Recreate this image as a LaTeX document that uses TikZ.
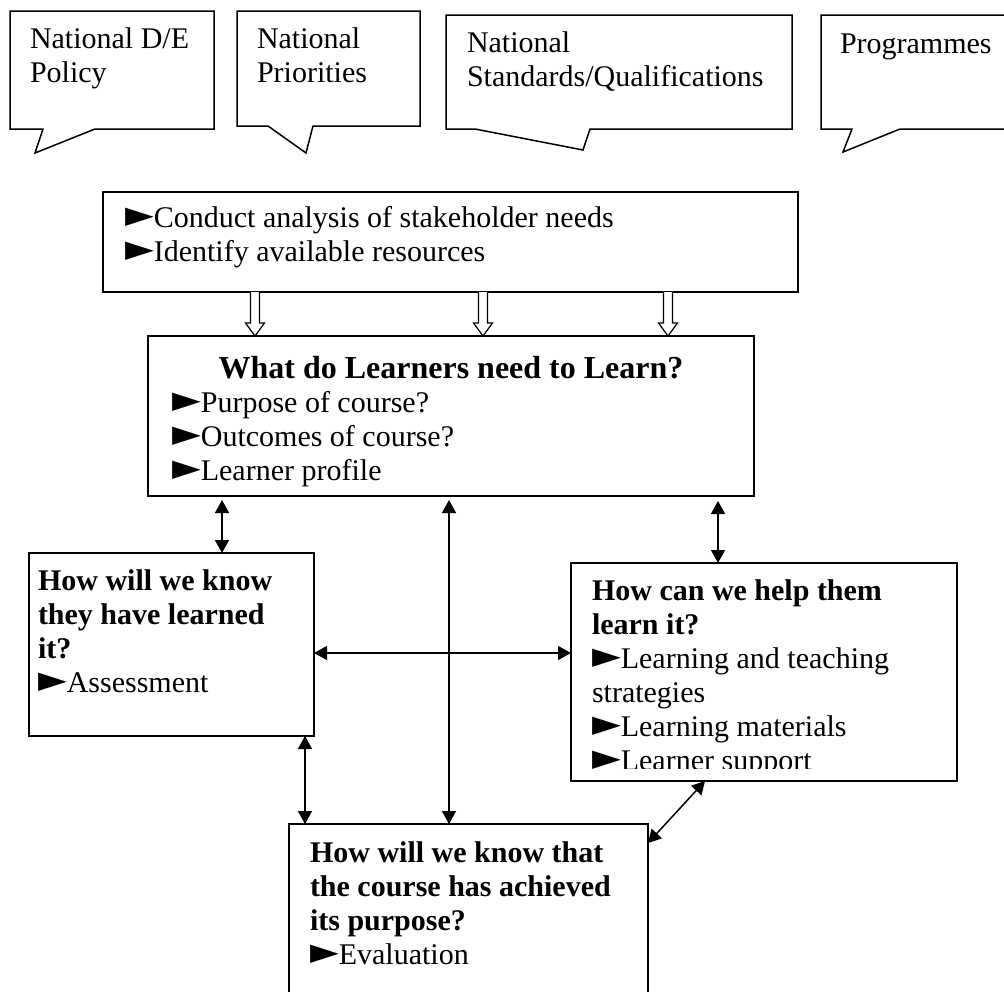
\documentclass[tikz,border=0pt]{standalone}
\usepackage{fontspec}
\setmainfont{Liberation Serif}
\newfontfamily\symfont{DejaVu Sans}
\usepackage{graphicx}
\usepackage{tikz}
\usetikzlibrary{arrows.meta,positioning,calc}

\newcommand{\tri}{\raisebox{4pt}{\scalebox{1.25}[0.8]{\symfont ▶}}}

\begin{document}
\begin{tikzpicture}[
    x=1pt, y=-1pt,
    font=\fontsize{30}{34}\selectfont,
    bubble/.style={anchor=north west, outer sep=0pt, inner ysep=0pt, align=flush left},
    outline/.style={draw, line width=1.5pt, line join=miter},
    qbox/.style={draw, line width=2pt, anchor=north west, outer sep=0pt, inner ysep=0pt, align=flush left},
    dbl/.style={{Triangle[length=13pt,width=14pt]}-{Triangle[length=13pt,width=14pt]}, line width=1.5pt},
    hollow/.style={draw, line width=1.2pt, fill=white, line join=miter}
]
    \useasboundingbox (0,0) rectangle (1004,991);

    % speech bubbles along the top
    \node[bubble, inner xsep=20pt, text width=164pt, text height=37pt, text depth=81pt] (policy) at (10,11) {National D/E\\Policy};
    \node[bubble, inner xsep=20pt, text width=143pt, text height=37pt, text depth=78pt] (prio) at (237,11) {National\\Priorities};
    \node[bubble, inner xsep=21pt, text width=304pt, text height=37pt, text depth=77pt] (stds) at (446,15) {National\\Standards/Qualifications};
    \node[bubble, inner xsep=19pt, text width=172pt, text height=38pt, text depth=76pt] (progs) at (821,15) {Programmes};

    \draw[outline] (policy.north west) -- (policy.north east) -- (policy.south east) -- ([xshift=85]policy.south west) -- ([xshift=25,yshift=-24]policy.south west) -- ([xshift=33]policy.south west) -- (policy.south west) -- cycle;
    \draw[outline] (prio.north west) -- (prio.north east) -- (prio.south east) -- ([xshift=76]prio.south west) -- ([xshift=69,yshift=-27]prio.south west) -- ([xshift=31]prio.south west) -- (prio.south west) -- cycle;
    \draw[outline] (stds.north west) -- (stds.north east) -- (stds.south east) -- ([xshift=144]stds.south west) -- ([xshift=137,yshift=-21]stds.south west) -- ([xshift=29]stds.south west) -- (stds.south west) -- cycle;
    \draw[outline] (progs.north west) -- (progs.north east) -- (progs.south east) -- ([xshift=79]progs.south west) -- ([xshift=22,yshift=-23]progs.south west) -- ([xshift=31]progs.south west) -- (progs.south west) -- cycle;

    % boxes
    \node[qbox, inner xsep=22pt, text width=651pt, text height=35pt, text depth=65pt] (res) at (103,192) {\tri{}Conduct analysis of stakeholder needs\\\tri{}Identify available resources};
    \node[qbox, inner xsep=24pt, text width=558pt, text height=42pt, text depth=118pt] (need) at (148,336) {\makebox[\linewidth]{\fontsize{32}{34}\selectfont\bfseries What do Learners need to Learn?}\\\tri{}Purpose of course?\\\tri{}Outcomes of course?\\\tri{}Learner profile};
    \node[qbox, inner xsep=9pt, text width=267pt, text height=37pt, text depth=146pt] (assess) at (29,553) {\textbf{How will we know}\\\textbf{they have learned}\\\textbf{it?}\\\tri{}Assessment};
    \node[qbox, inner xsep=21pt, text width=344pt, text height=37pt, text depth=181pt] (help) at (571,563) {\textbf{How can we help them}\\\textbf{learn it?}\\\tri{}Learning and teaching\\strategies\\\tri{}Learning materials\\\tri{}Learner support};
    \node[qbox, inner xsep=21pt, text width=317pt, text height=38pt, text depth=168pt] (eval) at (289,824) {\textbf{How will we know that}\\\textbf{the course has achieved}\\\textbf{its purpose?}\\\tri{}Evaluation};

    % last line of the help box is cut off
    \fill[white] ($(help.south west)+(1,-1)$) rectangle ($(help.south east)+(-1,-12)$);

    % hollow arrows into the learning box
    \foreach \hx in {255,483,668} {
        \coordinate (top) at (\hx,0 |- res.south);
        \coordinate (tip) at (\hx,0 |- need.north);
        \draw[hollow] ([xshift=-4.5]top) |- ([xshift=-9.5,yshift=13]tip) -- (tip) -- ([xshift=9.5,yshift=13]tip) -| ([xshift=4.5]top);
    }

    \draw[dbl, shorten <=4pt] ([xshift=50.5]assess.north |- need.south) -- ([xshift=50.5]assess.north);
    \draw[dbl, shorten <=5pt] ([xshift=-46]help.north |- need.south) -- ([xshift=-46]help.north);
    \draw[dbl, shorten <=4pt] ([xshift=-2]need.south) -- ([xshift=-2]need.south |- eval.north);
    \draw[dbl] ([yshift=-8.5]assess.east) -- ([yshift=-8.5]assess.east -| help.west);
    \draw[dbl] ([xshift=133.5]assess.south) -- ([xshift=133.5]assess.south |- eval.north);
    \draw[dbl] ([xshift=-59]help.south) -- ([yshift=-19]eval.north east);
\end{tikzpicture}
\end{document}
